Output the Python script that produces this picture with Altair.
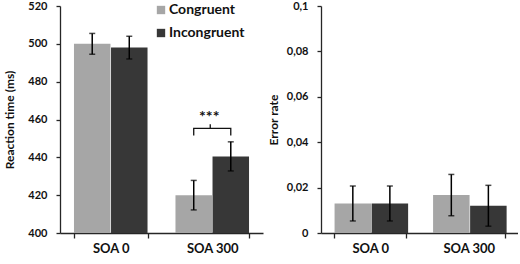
import altair as alt
import pandas as pd

# Conditions and measured values
soa = ["SOA 0", "SOA 300"]
conditions = ["Congruent", "Incongruent"]

rt_congruent = [500.0, 420.0]
rt_incongruent = [498.0, 440.5]
rt_err_congruent = [5.5, 7.8]
rt_err_incongruent = [6.0, 7.7]

er_congruent = [0.013, 0.0167]
er_incongruent = [0.013, 0.012]
er_err_congruent = [0.0077, 0.0091]
er_err_incongruent = [0.0077, 0.009]

# Significance bracket (ms) over the SOA 300 pair
bracket_low = 451.5
bracket_high = 455.3
bracket_peak = 457.5
stars_y = 463.0
stars_label = "***"

FONT = "Lato"
LIGHT = "#a6a6a6"
DARK = "#373737"
AXIS = "#262626"
PLOT_H = 227


def table(c_vals, i_vals, c_err, i_err):
    rows = []
    for k, s in enumerate(soa):
        for cond, v, e in ((conditions[0], c_vals[k], c_err[k]), (conditions[1], i_vals[k], i_err[k])):
            rows.append({"soa": s, "cond": cond, "mean": v, "lo": v - e, "hi": v + e})
    return pd.DataFrame(rows)


rt = table(rt_congruent, rt_incongruent, rt_err_congruent, rt_err_incongruent)
er = table(er_congruent, er_incongruent, er_err_congruent, er_err_incongruent)

x_scale = alt.Scale(paddingInner=0.27, paddingOuter=0.135)
xo_scale = alt.Scale(domain=conditions, paddingInner=0, paddingOuter=0)
color_scale = alt.Scale(domain=conditions, range=[LIGHT, DARK])

x_axis = alt.Axis(title=None, labelAngle=0, tickBand="extent", labelFont=FONT,
                  labelFontWeight="bold", labelFontSize=13, labelColor="#111",
                  labelPadding=4, tickSize=5, tickColor=AXIS, domainColor=AXIS,
                  domainWidth=1.3, tickWidth=1.3)


def y_axis(title, values, label_expr=None, title_pad=6):
    kw = dict(title=title, values=values, grid=False, labelOverlap=False, labelFont=FONT,
              labelFontWeight="bold", labelFontSize=11, labelColor="#111",
              labelPadding=9, tickSize=4, tickColor=AXIS, domainColor=AXIS,
              domainWidth=1.3, tickWidth=1.3, titleFont=FONT, titleFontSize=12,
              titleFontWeight="bold", titleColor="#111", titlePadding=title_pad)
    if label_expr:
        kw["labelExpr"] = label_expr
    return alt.Axis(**kw)


def panel(df, domain, axis, legend):
    x = alt.X("soa:N", sort=soa, scale=x_scale, axis=x_axis)
    xo = alt.XOffset("cond:N", sort=conditions, scale=xo_scale)
    y_scale = alt.Scale(domain=domain, nice=False, zero=False)
    leg = alt.Legend(title=None, orient="none", legendX=94, legendY=-3,
                     symbolType="square", symbolSize=70, symbolStrokeWidth=0,
                     labelFont=FONT, labelFontWeight="bold", labelFontSize=14,
                     labelColor="#111", rowPadding=9, labelOffset=1) if legend else None
    base = alt.Chart(df).encode(x=x, xOffset=xo)
    bars = base.mark_bar(size=36.5, clip=True).encode(
        y=alt.Y("mean:Q", scale=y_scale, axis=axis),
        color=alt.Color("cond:N", scale=color_scale, sort=conditions, legend=leg),
    )
    whisk = base.mark_rule(color="#000", strokeWidth=1.5).encode(
        y=alt.Y("lo:Q", axis=axis), y2="hi:Q")
    cap_lo = base.mark_tick(color="#000", size=6, thickness=1.5, orient="horizontal").encode(
        y=alt.Y("lo:Q", axis=axis))
    cap_hi = base.mark_tick(color="#000", size=6, thickness=1.5, orient="horizontal").encode(
        y=alt.Y("hi:Q", axis=axis))
    return [bars, whisk, cap_lo, cap_hi], x


rt_axis = y_axis("Reaction time (ms)", [400, 420, 440, 460, 480, 500, 520], title_pad=11)
rt_layers, bx = panel(rt, [400, 520], rt_axis, True)

# bracket marking the SOA 300 difference
br = pd.DataFrame({
    "soa": [soa[1]] * 4,
    "cond": [conditions[0], conditions[0], conditions[1], conditions[1]],
    "y": [bracket_low, bracket_high, bracket_high, bracket_low],
    "o": [0, 1, 2, 3],
})
bracket = alt.Chart(br).mark_line(color="#111", strokeWidth=1.3).encode(
    x=bx,
    xOffset=alt.XOffset("cond:N", sort=conditions, scale=xo_scale),
    y=alt.Y("y:Q", axis=rt_axis), order="o:Q",
)
peak = alt.Chart(pd.DataFrame({"soa": [soa[1]], "y": [bracket_high], "y2": [bracket_peak]})).mark_rule(
    color="#111", strokeWidth=1.3, xOffset=-2).encode(x=bx, y=alt.Y("y:Q", axis=rt_axis), y2="y2:Q")
stars = alt.Chart(pd.DataFrame({"soa": [soa[1]], "y": [stars_y], "t": [stars_label]})).mark_text(
    font=FONT, fontWeight="bold", fontSize=16, color="#111", baseline="middle", dx=-3, dy=3).encode(
    x=bx, y=alt.Y("y:Q", axis=rt_axis), text="t:N")

left = alt.layer(*rt_layers, bracket, peak, stars).properties(width=203, height=PLOT_H)

er_axis = y_axis("Error rate", [0, 0.02, 0.04, 0.06, 0.08, 0.1],
                 "datum.value == 0 ? '0' : replace(format(datum.value, '.2~f'), '.', ',')")
er_layers, _ = panel(er, [0, 0.1], er_axis, False)
right = alt.layer(*er_layers).properties(width=197, height=PLOT_H)

chart = alt.hconcat(left, right, spacing=4).resolve_scale(y="independent", color="shared").properties(
    padding={"left": 3, "top": 0, "right": 0, "bottom": 0}, background="white"
).configure_view(stroke=None)

chart.save("out.html", embed_options={"renderer": "svg", "actions": False})
